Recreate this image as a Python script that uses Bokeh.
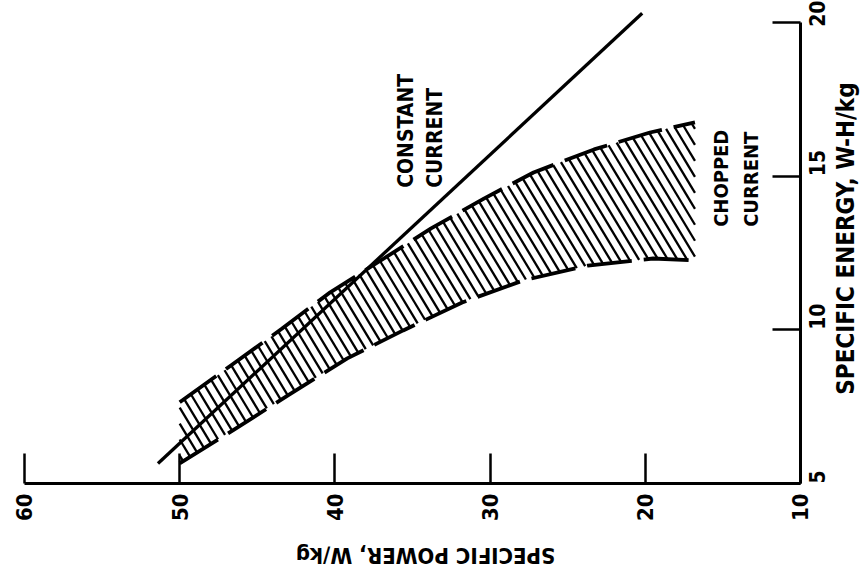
import math
import numpy as np
from bokeh.plotting import figure
from bokeh.models import Range1d, FixedTicker, LinearAxis
from bokeh.core.properties import value
from bokeh.embed import file_html
from bokeh.resources import INLINE

# ---- data (x = specific power W/kg, y = specific energy W-H/kg) ----
power_ticks = [60, 50, 40, 30, 20, 10]
energy_ticks = [5, 10, 15, 20]

const_power = [51.4, 20.2]
const_energy = [5.65, 20.3]

upper_power = [50.0, 46.7, 43.4, 40.3, 37.25, 33.8, 30.4, 27.2, 23.3, 19.7, 16.8]
upper_energy = [7.64, 8.84, 10.04, 11.22, 12.19, 13.30, 14.27, 15.12, 15.87, 16.42, 16.75]

lower_power = [50.0, 46.6, 43.05, 39.2, 35.6, 31.8, 27.85, 23.7, 19.5, 16.8]
lower_energy = [5.65, 6.72, 7.86, 9.07, 9.98, 10.89, 11.61, 12.09, 12.32, 12.26]

# hatch style: lines with slope dE/dP and spacing (in W/kg at fixed energy)
hatch_slope = 0.838
hatch_step = 0.62

FONT = "'DejaVu Sans Condensed', 'Liberation Sans Narrow', sans-serif"

p = figure(frame_width=860, frame_height=567,
           x_range=Range1d(61.546, 6.134), y_range=Range1d(2.265, 20.716),
           output_backend="svg", toolbar_location=None,
           x_axis_location=None, y_axis_location=None,
           min_border_left=0, min_border_top=0, min_border_right=0, min_border_bottom=0)
p.outline_line_color = None
p.grid.visible = False
p.background_fill_color = "white"
p.border_fill_color = "white"

# ---- hatch lines clipped between the two boundary curves ----
pgrid = np.linspace(min(upper_power[-1], lower_power[-1]), 50.0, 3000)
up_i = np.interp(pgrid, upper_power[::-1], upper_energy[::-1])
lo_i = np.interp(pgrid, lower_power[::-1], lower_energy[::-1])
c_all = hatch_slope * pgrid
cmin = float(np.min(lo_i - c_all))
cmax = float(np.max(up_i - c_all))
hx0, hy0, hx1, hy1 = [], [], [], []
c = cmin + hatch_step * hatch_slope * 0.5
while c < cmax:
    el = c + hatch_slope * pgrid
    inside = (el >= lo_i) & (el <= up_i)
    if inside.any():
        idx = np.where(inside)[0]
        a, b = idx[0], idx[-1]
        hx0.append(pgrid[a]); hy0.append(el[a])
        hx1.append(pgrid[b]); hy1.append(el[b])
    c += hatch_step * hatch_slope
p.segment(hx0, hy0, hx1, hy1, line_color="black", line_width=2.3)

p.line(upper_power, upper_energy, line_color="black", line_width=3.8, line_dash="45 12")
p.line(lower_power, lower_energy, line_color="black", line_width=3.8, line_dash="45 12")

p.line(const_power, const_energy, line_color="black", line_width=3.3)

# text annotations
p.text(x=[35.45, 33.52], y=[14.62, 14.62], text=["CONSTANT", "CURRENT"],
       angle=math.pi / 2, text_align="left", text_baseline="middle",
       text_font=value(FONT), text_font_style="bold", text_font_size="21px",
       text_color="black")
p.text(x=[15.15, 13.22], y=[13.35, 13.35], text=["CHOPPED", "CURRENT"],
       angle=math.pi / 2, text_align="left", text_baseline="middle",
       text_font=value(FONT), text_font_style="bold", text_font_size="20px",
       text_color="black")

# axis titles (rotated like the reference)
p.text(x=[34.16], y=[2.66], text=["SPECIFIC POWER, W/kg"], angle=math.pi,
       text_align="center", text_baseline="middle",
       text_font=value(FONT), text_font_style="bold", text_font_size="22px",
       text_color="black")
p.text(x=[7.10], y=[12.97], text=["SPECIFIC ENERGY, W-H/kg"], angle=math.pi / 2,
       text_align="center", text_baseline="middle",
       text_font=value(FONT), text_font_style="bold", text_font_size="24px",
       text_color="black")

# axes, drawn at fixed data locations inside the frame
xa = LinearAxis(bounds=(10, 60), ticker=FixedTicker(ticks=power_ticks, minor_ticks=[]),
                fixed_location=5)
ya = LinearAxis(bounds=(5, 20), ticker=FixedTicker(ticks=energy_ticks, minor_ticks=[]),
                fixed_location=10)
for ax in (xa, ya):
    ax.axis_line_color = "black"
    ax.axis_line_width = 3
    ax.major_tick_line_color = "black"
    ax.major_tick_line_width = 2.5
    ax.major_tick_out = 0
    ax.minor_tick_line_color = None
    ax.major_label_orientation = math.pi / 2
    ax.major_label_text_font = FONT
    ax.major_label_text_font_style = "bold"
    ax.major_label_text_color = "black"

xa.major_tick_in = 30
xa.major_label_standoff = 10
xa.major_label_text_font_size = "22px"

ya.major_tick_in = 28
ya.major_label_standoff = 17
ya.major_label_text_font_size = "21px"

p.add_layout(xa, "below")
p.add_layout(ya, "right")

open("out.html", "w").write(file_html(p, INLINE))
